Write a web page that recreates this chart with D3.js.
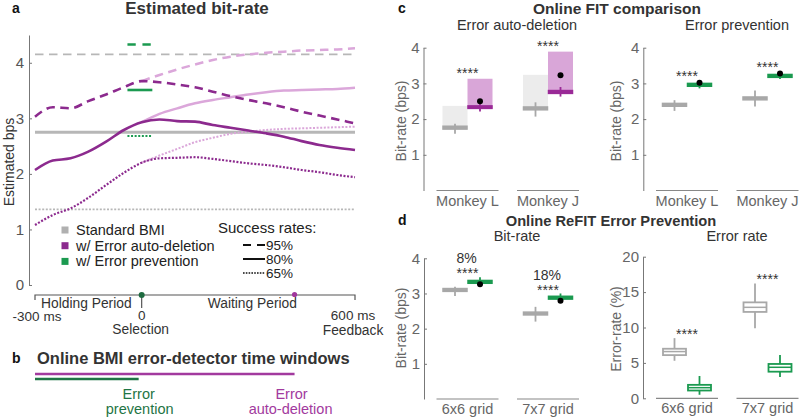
<!DOCTYPE html>
<html lang="en">
<head>
<meta charset="UTF-8">
<title>Error detection bit-rate figure</title>
<script src="https://d3js.org/d3.v7.min.js"></script>
<style>
  body { margin: 0; background: #fff; }
  svg { font-family: "Liberation Sans", Arial, Helvetica, sans-serif; }
</style>
</head>
<body>
<svg id="fig" width="800" height="420"></svg>
<script>
// ---- panel a data (bps) ----
const timeMs   = [-300,-250,-200,-150,-100,-50,0,50,100,150,200,250,300,350,400,450,500,550,600];
const timeLate = [0,50,100,150,200,250,300,350,400,450,500,550,600];
const successRates = ["95%","80%","65%"];
const stdBmiRate = [4.15, 2.75, 1.36];
const autoDel95 = [3.03,3.20,3.18,3.31,3.43,3.56,3.67,3.65,3.61,3.56,3.48,3.40,3.33,3.27,3.20,3.12,3.05,2.98,2.91];
const autoDel80 = [2.07,2.24,2.28,2.40,2.58,2.79,2.93,2.98,2.95,2.94,2.88,2.83,2.78,2.73,2.67,2.59,2.52,2.47,2.43];
const autoDel65 = [1.08,1.26,1.38,1.57,1.80,2.02,2.20,2.28,2.29,2.30,2.27,2.23,2.19,2.16,2.12,2.07,2.03,1.98,1.94];
const autoDelLate95 = [3.67,3.78,3.88,3.97,4.05,4.11,4.15,4.18,4.20,4.22,4.23,4.24,4.26];
const autoDelLate80 = [2.93,3.08,3.18,3.27,3.33,3.38,3.43,3.47,3.50,3.51,3.52,3.53,3.55];
const autoDelLate65 = [2.20,2.33,2.45,2.57,2.65,2.72,2.76,2.79,2.81,2.82,2.83,2.84,2.85];
const prevRate = [4.33, 3.51, 2.68];
const prevWindow = [-40, 30];
const selectionMs = 0, autoDelEndMs = 430;

// ---- panel c / d data: [low whisker, q1, median, q3, high whisker] ----
const fitGroups = ["Monkey L", "Monkey J"];
const delStd = [[1.59,1.72,1.76,1.80,1.87],[2.07,2.26,2.30,2.34,2.47]];
const delNew = [[2.21,2.30,2.33,2.37,2.43],[2.63,2.72,2.76,2.80,2.90]];
const delStdShade = [2.37, 3.24];
const delNewShade = [3.13, 3.89];
const delNewDot = [2.50, 3.23];
const prevStd = [[2.23,2.36,2.40,2.44,2.53],[2.35,2.54,2.58,2.62,2.80]];
const prevNew = [[2.86,2.92,2.96,3.00,3.05],[3.12,3.17,3.21,3.25,3.30]];
const prevNewDot = [3.02, 3.28];

const refitGroups = ["6x6 grid", "7x7 grid"];
const refitStd = [[2.93,3.06,3.10,3.14,3.19],[2.20,2.39,2.43,2.47,2.62]];
const refitNew = [[3.24,3.29,3.33,3.37,3.46],[2.78,2.84,2.88,2.92,3.00]];
const refitNewDot = [3.26, 2.79];
const refitGain = ["8%", "18%"];
const errStd = [[5.3,6.1,6.6,7.0,8.5],[9.9,12.2,12.85,13.55,16.2]];
const errNew = [[0.5,1.1,1.5,1.9,3.15],[3.0,3.76,4.38,4.85,6.1]];

const FONT = '"Liberation Sans", Arial, Helvetica, sans-serif';
const GRAY = "#a8a8a8", PURPLE = "#8c2a8e", LPURPLE = "#dba7da", GREEN = "#1b9a50";
const dashes = ["8.5,5.5", null, "2,1.6"];

const svg = d3.select("#fig");

function styleAxis(g) {
  g.attr("font-family", FONT).attr("font-size", 15);
  g.select(".domain").attr("stroke", "#777");
  g.selectAll(".tick line").attr("stroke", "#777");
  g.selectAll(".tick text").attr("fill", "#666");
}

function txt(g, s, x, y, size, opt) {
  opt = opt || {};
  return g.append("text").attr("x", x).attr("y", y).text(s)
    .attr("font-size", size)
    .attr("font-weight", opt.bold ? "bold" : null)
    .attr("text-anchor", opt.anchor || "start")
    .attr("fill", opt.fill || "#333");
}

// ================= panel a =================
const xA = d3.scaleLinear().domain([-300, 600]).range([35, 355]);
const yA = d3.scaleLinear().domain([0, 4.5]).range([285, 35]);
const gA = svg.append("g");

gA.append("g").attr("transform", "translate(29,0)")
  .call(d3.axisLeft(yA).tickValues([0,1,2,3,4]).tickFormat(d3.format("d"))
    .tickSizeInner(-3).tickSizeOuter(0).tickPadding(5))
  .call(styleAxis)
  .call(g => g.selectAll(".tick text").attr("fill", "#555"));

gA.selectAll(null).data(stdBmiRate).join("line")
  .attr("x1", xA(-300)).attr("x2", xA(600))
  .attr("y1", d => yA(d)).attr("y2", d => yA(d))
  .attr("stroke", "#b7b7b7")
  .attr("stroke-width", (d, i) => i == 1 ? 3 : 1.8)
  .attr("stroke-dasharray", (d, i) => dashes[i]);

const line = d3.line().x(d => xA(d[0])).y(d => yA(d[1])).curve(d3.curveMonotoneX);
const pair = (t, v) => t.map((x, i) => [x, v[i]]);

gA.selectAll(null).data([autoDelLate95, autoDelLate80, autoDelLate65]).join("path")
  .attr("d", d => line(pair(timeLate, d)))
  .attr("fill", "none").attr("stroke", LPURPLE)
  .attr("stroke-width", (d, i) => i == 2 ? 2 : 2.5)
  .attr("stroke-dasharray", (d, i) => dashes[i]);

gA.selectAll(null).data([autoDel95, autoDel80, autoDel65]).join("path")
  .attr("d", d => line(pair(timeMs, d)))
  .attr("fill", "none").attr("stroke", PURPLE)
  .attr("stroke-width", (d, i) => i == 2 ? 2.2 : 2.6)
  .attr("stroke-dasharray", (d, i) => dashes[i]);

gA.selectAll(null).data(prevRate).join("line")
  .attr("x1", xA(prevWindow[0])).attr("x2", xA(prevWindow[1]))
  .attr("y1", d => yA(d)).attr("y2", d => yA(d))
  .attr("stroke", GREEN).attr("stroke-width", (d, i) => i == 2 ? 2 : 2.6)
  .attr("stroke-dasharray", (d, i) => i == 0 ? "8.3,6.7" : dashes[i]);

// legend
const legItems = ["Standard BMI", "w/ Error auto-deletion", "w/ Error prevention"];
const legColors = ["#b0b0b0", PURPLE, GREEN];
legItems.forEach((s, i) => {
  const y = 235 + i * 15.7;
  gA.append("rect").attr("x", 61.5).attr("y", y - 8.5).attr("width", 7).attr("height", 7).attr("fill", legColors[i]);
  txt(gA, s, 76, y, 14.5, { fill: "#222" });
});
txt(gA, "Success rates:", 218, 232.5, 15, { fill: "#222" });
successRates.forEach((s, i) => {
  const y = 249.5 + i * 14;
  gA.append("line").attr("x1", 243).attr("x2", 265).attr("y1", y - 4.5).attr("y2", y - 4.5)
    .attr("stroke", "#111").attr("stroke-width", i == 2 ? 1.6 : 2)
    .attr("stroke-dasharray", i == 0 ? "8,6" : i == 2 ? "1.6,1.2" : null);
  txt(gA, s, 266, y, 13.5, { fill: "#222" });
});

// timeline
gA.append("path")
  .attr("d", `M${xA(-300)},300V295H${xA(600)}V300`)
  .attr("fill", "none").attr("stroke", "#555").attr("stroke-width", 1.2);
gA.append("line").attr("x1", xA(selectionMs)).attr("x2", xA(selectionMs)).attr("y1", 295).attr("y2", 308)
  .attr("stroke", "#555").attr("stroke-width", 1.2);
gA.append("circle").attr("cx", xA(selectionMs)).attr("cy", 295).attr("r", 3).attr("fill", "#1e6b40");
gA.append("circle").attr("cx", xA(autoDelEndMs)).attr("cy", 294.5).attr("r", 2.6).attr("fill", "#a0379c");
txt(gA, "Holding Period", xA(-150) - 2, 308, 13.8, { anchor: "middle" });
txt(gA, "Waiting Period", xA(300) + 4, 308, 13.8, { anchor: "middle" });
txt(gA, "-300 ms", xA(-300) + 2, 321, 13.5, { anchor: "middle" });
txt(gA, "0", xA(0), 319.5, 13.5, { anchor: "middle" });
txt(gA, "Selection", xA(0) - 1, 334, 13.8, { anchor: "middle" });
txt(gA, "600 ms", xA(600) - 2, 320, 13.5, { anchor: "middle" });
txt(gA, "Feedback", xA(600) - 2, 334.5, 13.8, { anchor: "middle" });

gA.append("text").attr("transform", "translate(14,162) rotate(-90)")
  .attr("text-anchor", "middle").attr("font-size", 14).attr("fill", "#333").text("Estimated bps");
txt(gA, "a", 12, 12.5, 14, { bold: true, fill: "#111" });
txt(gA, "Estimated bit-rate", 197, 14, 17, { bold: true, anchor: "middle" });

// ================= panel b =================
const gB = svg.append("g");
txt(gB, "b", 12, 363, 14, { bold: true, fill: "#111" });
txt(gB, "Online BMI error-detector time windows", 37, 364, 16.5, { bold: true });
gB.append("line").attr("x1", xA(-300)).attr("x2", xA(autoDelEndMs)).attr("y1", 374).attr("y2", 374)
  .attr("stroke", "#a23a9e").attr("stroke-width", 2.6);
gB.append("line").attr("x1", xA(-300)).attr("x2", xA(selectionMs) - 3).attr("y1", 379).attr("y2", 379)
  .attr("stroke", "#1f7545").attr("stroke-width", 2.6);
txt(gB, "Error", xA(selectionMs) - 3, 399, 14.5, { anchor: "middle", fill: "#1f7545" });
txt(gB, "prevention", xA(selectionMs) - 2, 414, 14.5, { anchor: "middle", fill: "#1f7545" });
txt(gB, "Error", xA(autoDelEndMs) - 3, 399, 14.5, { anchor: "middle", fill: "#a23a9e" });
txt(gB, "auto-deletion", xA(autoDelEndMs) - 4, 414, 14.5, { anchor: "middle", fill: "#a23a9e" });

// ================= panels c / d =================
const BW = 25;

function panel(o) {
  const g = svg.append("g");
  g.append("g").attr("transform", `translate(${o.axisX},0)`)
    .call(d3.axisLeft(o.y).tickValues(o.ticks).tickFormat(d3.format("d"))
      .tickSizeInner(-3).tickSizeOuter(0).tickPadding(4))
    .call(styleAxis);
  g.selectAll(null).data(o.groups).join("line")
    .attr("x1", d => o.xs(d) - 31).attr("x2", d => o.xs(d) + 31)
    .attr("y1", o.y(0)).attr("y2", o.y(0))
    .attr("stroke", "#888").attr("stroke-width", 1.2);
  g.selectAll(null).data(o.groups).join("text")
    .attr("x", d => o.xs(d)).attr("y", o.y(0) + 15)
    .attr("text-anchor", "middle").attr("font-size", 14.5).attr("fill", "#666").text(d => d);
  g.append("text").attr("transform", `translate(${o.labelX},${o.labelY}) rotate(-90)`)
    .attr("text-anchor", "middle").attr("font-size", 14).attr("fill", "#666").text(o.label);
  txt(g, o.sub, o.subX, o.subY, 14.5, { anchor: "middle" });
  return g;
}

// filled thin bars with whiskers
function bars(g, o, boxes, side, color) {
  const b = g.selectAll(null).data(boxes).join("g")
    .attr("transform", (d, i) => `translate(${o.xs(o.groups[i]) + (side < 0 ? -BW : 0)},0)`);
  b.append("line").attr("x1", BW / 2).attr("x2", BW / 2)
    .attr("y1", d => o.y(d[0])).attr("y2", d => o.y(d[4]))
    .attr("stroke", color).attr("stroke-width", 1.8);
  b.append("rect").attr("x", 0.5).attr("width", BW - 1)
    .attr("y", d => o.y(d[3])).attr("height", d => o.y(d[1]) - o.y(d[3]))
    .attr("fill", color).attr("stroke", color).attr("stroke-width", 1.5);
}

// open boxes
function openBoxes(g, o, boxes, side, color) {
  const b = g.selectAll(null).data(boxes).join("g")
    .attr("transform", (d, i) => `translate(${o.xs(o.groups[i]) + (side < 0 ? -BW : 0)},0)`);
  b.append("line").attr("x1", BW / 2).attr("x2", BW / 2)
    .attr("y1", d => o.y(d[0])).attr("y2", d => o.y(d[1]))
    .attr("stroke", color).attr("stroke-width", 1.8);
  b.append("line").attr("x1", BW / 2).attr("x2", BW / 2)
    .attr("y1", d => o.y(d[3])).attr("y2", d => o.y(d[4]))
    .attr("stroke", color).attr("stroke-width", 1.8);
  b.append("rect").attr("x", 1).attr("width", BW - 2)
    .attr("y", d => o.y(d[3])).attr("height", d => o.y(d[1]) - o.y(d[3]))
    .attr("fill", "none").attr("stroke", color).attr("stroke-width", 1.8);
  b.append("line").attr("x1", 1).attr("x2", BW - 1)
    .attr("y1", d => o.y(d[2])).attr("y2", d => o.y(d[2]))
    .attr("stroke", color).attr("stroke-width", 1.5);
}

function dots(g, o, vals) {
  g.selectAll(null).data(vals).join("circle")
    .attr("cx", (d, i) => o.xs(o.groups[i]) + BW / 2)
    .attr("cy", d => o.y(d)).attr("r", 3).attr("fill", "#000");
}

function stars(g, o, tops) {
  g.selectAll(null).data(tops).join("text")
    .attr("x", (d, i) => o.xs(o.groups[i]))
    .attr("y", d => o.y(d))
    .attr("text-anchor", "middle").attr("font-size", 14).attr("fill", "#333").text("****");
}

// --- c, auto-deletion
const c1 = { axisX: 423.5, y: d3.scaleLinear().domain([0, 4]).range([190.5, 47.7]),
  groups: fitGroups, xs: d3.scalePoint().domain(fitGroups).range([467.5, 548]),
  ticks: [1,2,3,4], label: "Bit-rate (bps)", labelX: 406, labelY: 121,
  sub: "Error auto-deletion", subX: 517, subY: 30 };
const gC1 = panel(c1);
gC1.selectAll(null).data(delStd).join("rect")
  .attr("x", (d, i) => c1.xs(fitGroups[i]) - BW).attr("width", BW)
  .attr("y", (d, i) => c1.y(delStdShade[i])).attr("height", (d, i) => c1.y(d[1]) - c1.y(delStdShade[i]))
  .attr("fill", "#ececec");
gC1.selectAll(null).data(delNew).join("rect")
  .attr("x", (d, i) => c1.xs(fitGroups[i])).attr("width", BW)
  .attr("y", (d, i) => c1.y(delNewShade[i])).attr("height", (d, i) => c1.y(d[1]) - c1.y(delNewShade[i]))
  .attr("fill", "#d9a6d8");
bars(gC1, c1, delStd, -1, GRAY);
bars(gC1, c1, delNew, 1, "#9a2a97");
dots(gC1, c1, delNewDot);
stars(gC1, c1, fitGroups.map((d, i) => d3.max([delStdShade[i], delNewShade[i]]) + 0.02));

// --- c, prevention
const c2 = { axisX: 643.3, y: d3.scaleLinear().domain([0, 4]).range([190.5, 47.7]),
  groups: fitGroups, xs: d3.scalePoint().domain(fitGroups).range([687, 767.5]),
  ticks: [1,2,3,4], label: "Bit-rate (bps)", labelX: 621, labelY: 121,
  sub: "Error prevention", subX: 737, subY: 30 };
const gC2 = panel(c2);
bars(gC2, c2, prevStd, -1, GRAY);
bars(gC2, c2, prevNew, 1, GREEN);
dots(gC2, c2, prevNewDot);
stars(gC2, c2, fitGroups.map((d, i) => d3.max([prevStd[i][4], prevNew[i][4]]) + 0.02));

txt(svg, "c", 398, 12.5, 14, { bold: true, fill: "#111" });
txt(svg, "Online FIT comparison", 617, 13.5, 15.5, { bold: true, anchor: "middle" });

// --- d, bit-rate
const d1 = { axisX: 424, y: d3.scaleLinear().domain([0, 4]).range([399, 258.3]),
  groups: refitGroups, xs: d3.scalePoint().domain(refitGroups).range([467.5, 548]),
  ticks: [1,2,3,4], label: "Bit-rate (bps)", labelX: 406, labelY: 328,
  sub: "Bit-rate", subX: 517, subY: 240.5 };
const gD1 = panel(d1);
bars(gD1, d1, refitStd, -1, GRAY);
bars(gD1, d1, refitNew, 1, GREEN);
dots(gD1, d1, refitNewDot);
const d1Top = refitGroups.map((d, i) => d3.max([refitStd[i][4], refitNew[i][4]]) - 0.03);
stars(gD1, d1, d1Top);
gD1.selectAll(null).data(refitGain).join("text")
  .attr("x", (d, i) => d1.xs(refitGroups[i]) - 1)
  .attr("y", (d, i) => d1.y(d1Top[i]) - 15)
  .attr("text-anchor", "middle").attr("font-size", 14).attr("fill", "#333").text(d => d);

// --- d, error rate
const d2 = { axisX: 643, y: d3.scaleLinear().domain([0, 20]).range([398.3, 256.7]),
  groups: refitGroups, xs: d3.scalePoint().domain(refitGroups).range([687, 767.5]),
  ticks: [0,5,10,15,20], label: "Error-rate (%)", labelX: 621, labelY: 329,
  sub: "Error rate", subX: 737, subY: 240.5 };
const gD2 = panel(d2);
openBoxes(gD2, d2, errStd, -1, GRAY);
openBoxes(gD2, d2, errNew, 1, GREEN);
stars(gD2, d2, refitGroups.map((d, i) => d3.max([errStd[i][4], errNew[i][4]]) - 0.1));

txt(svg, "d", 398, 225, 14, { bold: true, fill: "#111" });
txt(svg, "Online ReFIT Error Prevention", 611, 226, 14.7, { bold: true, anchor: "middle" });
</script>
</body>
</html>
